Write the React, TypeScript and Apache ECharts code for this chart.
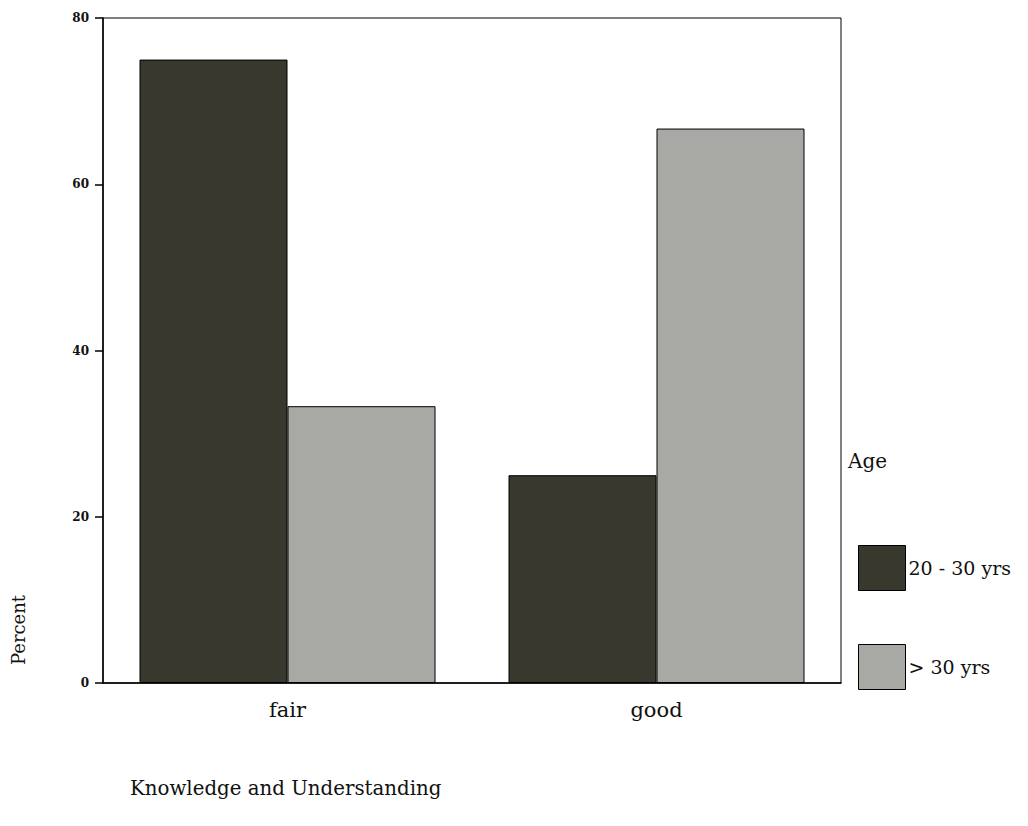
import React, { useEffect, useRef } from "react";
import * as echarts from "echarts";

const categories = ["fair", "good"];
const seriesNames = ["20 - 30 yrs", "> 30 yrs"];
const youngValues = [75, 25];
const olderValues = [33.3, 66.7];
const yTicks = { min: 0, max: 80, interval: 20 };

const FONT = "'DejaVu Serif', serif";

export default function App() {
  const ref = useRef<HTMLDivElement>(null);
  useEffect(() => {
    if (!ref.current) return;
    const chart = echarts.init(ref.current, undefined, { renderer: "svg" });
    chart.setOption({
      animation: false,
      backgroundColor: "#ffffff",
      grid: {
        left: 103,
        right: 187,
        top: 18,
        bottom: 143,
        show: true,
        borderColor: "#000",
        borderWidth: 1,
        backgroundColor: "transparent",
      },
      legend: {
        orient: "vertical",
        left: 858,
        top: 545,
        padding: 0,
        itemWidth: 47,
        itemHeight: 45,
        itemGap: 53,
        icon: "rect",
        data: seriesNames,
        textStyle: { fontFamily: FONT, fontSize: 19, color: "#111", padding: [0, 0, 0, -2] },
        itemStyle: { borderColor: "#000", borderWidth: 1 },
      },
      xAxis: {
        type: "category",
        data: categories,
        axisLine: { lineStyle: { color: "#000", width: 1.5 } },
        axisTick: { alignWithLabel: true, length: 5, lineStyle: { color: "#000" } },
        axisLabel: { fontFamily: FONT, fontSize: 21, color: "#111", margin: 16 },
      },
      yAxis: {
        type: "value",
        min: yTicks.min,
        max: yTicks.max,
        interval: yTicks.interval,
        splitLine: { show: false },
        axisLine: { show: true, lineStyle: { color: "#000", width: 1.5 } },
        axisTick: { show: true, length: 8, lineStyle: { color: "#000", width: 1.5 } },
        axisLabel: { fontFamily: FONT, fontSize: 12, fontWeight: "bold", color: "#111", margin: 14 },
      },
      series: [
        {
          name: seriesNames[0],
          type: "bar",
          data: youngValues,
          barWidth: 148,
          barGap: "0%",
          itemStyle: { color: "#38382f", borderColor: "#000", borderWidth: 1 },
        },
        {
          name: seriesNames[1],
          type: "bar",
          data: olderValues,
          barWidth: 148,
          barGap: "0%",
          itemStyle: { color: "#a8a8a5", borderColor: "#000", borderWidth: 1 },
        },
      ],
      graphic: [
        {
          type: "text",
          left: 848,
          top: 451,
          style: { text: "Age", fontFamily: FONT, fontSize: 20, fill: "#111" },
        },
        {
          type: "text",
          x: 18,
          y: 630,
          rotation: Math.PI / 2,
          style: {
            text: "Percent",
            fontFamily: FONT,
            fontSize: 18,
            fill: "#111",
            align: "center",
            verticalAlign: "middle",
          },
        },
        {
          type: "text",
          left: 130,
          top: 778,
          style: { text: "Knowledge and Understanding", fontFamily: FONT, fontSize: 19.8, fill: "#111" },
        },
      ],
    });
    return () => chart.dispose();
  }, []);
  return <div ref={ref} style={{ width: 1028, height: 826, margin: -8 }} />;
}
